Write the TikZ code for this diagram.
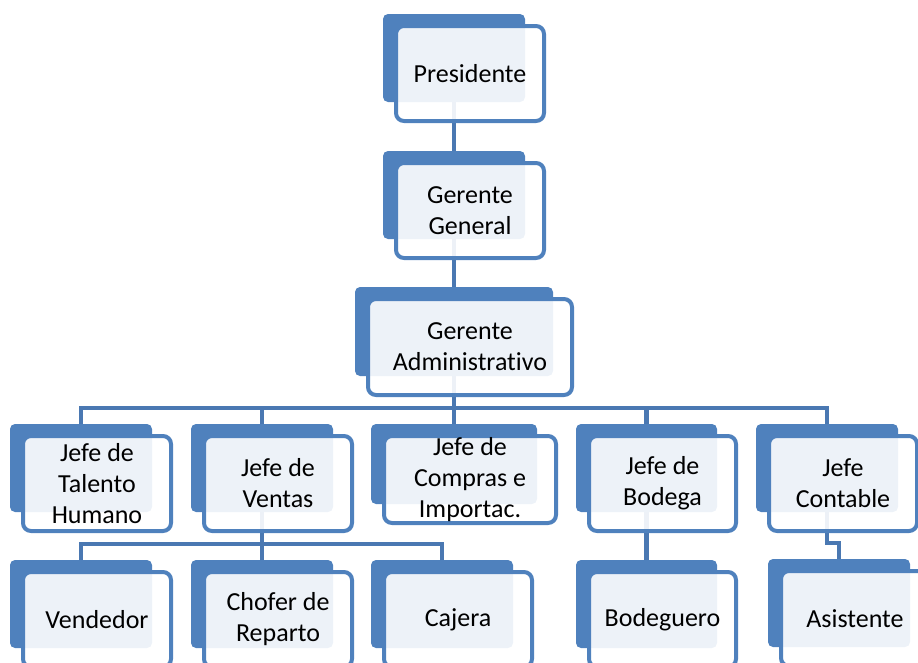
\documentclass[tikz,border=0pt]{standalone}
\usepackage{fontspec}
\setmainfont[Ligatures=NoCommon]{Carlito}
\usetikzlibrary{calc}
\definecolor{boxblue}{HTML}{4F81BD}
\definecolor{linkblue}{HTML}{4A78B2}
\tikzset{
  backbox/.style={fill=boxblue, rounded corners=5pt, inner sep=0pt, outer sep=0pt, anchor=north west},
  frontbox/.style={draw=boxblue, line width=4pt, fill=white, fill opacity=0.9, text opacity=1,
    rounded corners=8pt, inner sep=0pt, outer sep=0pt, anchor=north west, align=center,
    font=\fontsize{26}{31}\selectfont},
  link/.style={draw=linkblue, line width=4.8pt, line join=miter}
}
% back card: name, x, y (from top), width, height
\newcommand\backcard[5]{\node[backbox, minimum width=#4pt, minimum height=#5pt] (#1) at (#2,#3) {};}
% front card: name, back card, width, height, text
\newcommand\frontcard[5]{\node[frontbox, minimum width=#3pt+6pt, minimum height=#4pt+7pt] (#1)
  at ([xshift=13pt,yshift=-12pt]#2.north west) {#5};}
\begin{document}
\begin{tikzpicture}[x=1pt, y=-1pt]
\useasboundingbox (0,0) rectangle (918,662);
\clip (0,0) rectangle (918,662);

% back cards
\backcard{pres-b}{383}{14}{142}{88}
\backcard{gg-b}{383}{151}{142}{88}
\backcard{adm-b}{355}{287}{198}{89}
\backcard{tal-b}{10}{424}{142}{88}
\backcard{ven-b}{191}{424}{142}{88}
\backcard{com-b}{371}{424}{166}{80}
\backcard{bod-b}{576}{424}{141}{88}
\backcard{con-b}{756}{424}{142}{88}
\backcard{vnd-b}{10}{560}{142}{88}
\backcard{cho-b}{191}{560}{142}{88}
\backcard{caj-b}{371}{560}{142}{88}
\backcard{bdg-b}{576}{560}{141}{88}
\backcard{asi-b}{768}{559}{142}{88}

% connectors
\coordinate (bus1) at (454,408);
\coordinate (bus2) at (262,544);
\coordinate (celb) at (833,543);
\draw[link] (pres-b.south) -- (gg-b.north);
\draw[link] (gg-b.south) -- (adm-b.north);
\draw[link] (adm-b.south) -- (bus1);
\foreach \n in {tal-b,ven-b,com-b,bod-b,con-b} \draw[link] (\n.north) |- (bus1);
\draw[link] (ven-b.south) -- (bus2);
\foreach \n in {vnd-b,cho-b,caj-b} \draw[link] (\n.north) |- (bus2);
\draw[link] (bod-b.south) -- (bdg-b.north);
\draw[link] (con-b.south) |- (celb) -| (asi-b.north);

% front cards
\frontcard{pres}{pres-b}{142}{88}{Presidente}
\frontcard{gg}{gg-b}{142}{88}{Gerente\\General}
\frontcard{adm}{adm-b}{198}{89}{Gerente\\Administrativo}
\frontcard{tal}{tal-b}{142}{88}{Jefe de\\Talento\\Humano}
\frontcard{ven}{ven-b}{142}{88}{Jefe de\\Ventas}
\frontcard{com}{com-b}{166}{80}{Jefe de\\Compras e\\Importac.}
\frontcard{bod}{bod-b}{141}{88}{Jefe de\\Bodega}
\frontcard{con}{con-b}{142}{88}{Jefe\\Contable}
\frontcard{vnd}{vnd-b}{142}{88}{Vendedor}
\frontcard{cho}{cho-b}{142}{88}{Chofer de\\Reparto}
\frontcard{caj}{caj-b}{142}{88}{Cajera}
\frontcard{bdg}{bdg-b}{141}{88}{Bodeguero}
\frontcard{asi}{asi-b}{142}{88}{Asistente}
\end{tikzpicture}
\end{document}
